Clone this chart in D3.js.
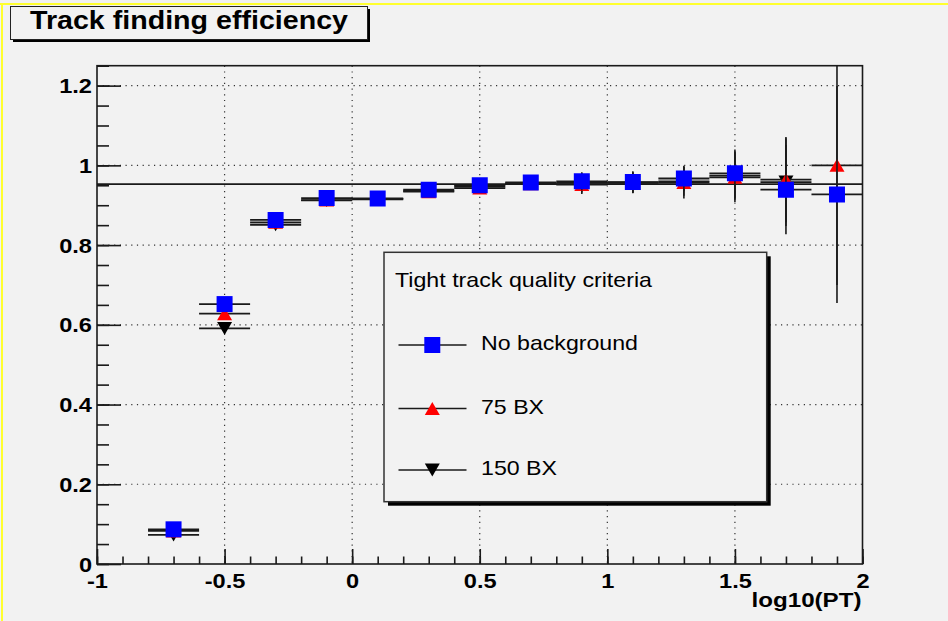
<!DOCTYPE html>
<html>
<head>
<meta charset="utf-8">
<script src="https://cdn.jsdelivr.net/npm/d3@7"></script>
<style>
  body { margin: 0; background: #f2f2f2; }
  svg { display: block; }
  text { font-family: "Liberation Sans", Arial, Helvetica, sans-serif; fill: #000; }
</style>
</head>
<body>
<svg id="chart" width="948" height="621"></svg>
<script>
// ---- data -------------------------------------------------------------
const binCenters   = [-0.7, -0.5, -0.3, -0.1, 0.1, 0.3, 0.5, 0.7, 0.9, 1.1, 1.3, 1.5, 1.7, 1.9];
const binHalfWidth = 0.1;

const noBackground    = [0.087, 0.652, 0.863, 0.918, 0.917, 0.939, 0.950, 0.957, 0.960, 0.958, 0.967, 0.980, 0.939, 0.927];
const noBackgroundErr = [0.004, 0.006, 0.006, 0.005, 0.005, 0.006, 0.008, 0.012, 0.023, 0.027, 0.032, 0.060, 0.112, 0.272];

const bx75    = [0.083, 0.628, 0.857, 0.913, 0.916, 0.934, 0.943, 0.954, 0.952, 0.956, 0.957, 0.970, 0.964, 1.000];
const bx75Err = [0.004, 0.006, 0.006, 0.005, 0.005, 0.006, 0.008, 0.012, 0.024, 0.026, 0.040, 0.062, 0.107, 0.300];

const bx150    = [0.073, 0.591, 0.851, 0.912, 0.915, 0.936, 0.947, 0.955, 0.956, 0.957, 0.960, 0.974, 0.958, null];
const bx150Err = [0.004, 0.006, 0.006, 0.005, 0.005, 0.006, 0.008, 0.012, 0.024, 0.026, 0.036, 0.060, 0.110, null];

const fitLevel = 0.953;

const xTickValues = [-1, -0.5, 0, 0.5, 1, 1.5, 2];
const xTickLabels = ["-1", "-0.5", "0", "0.5", "1", "1.5", "2"];
const yTickValues = [0, 0.2, 0.4, 0.6, 0.8, 1, 1.2];
const yTickLabels = ["0", "0.2", "0.4", "0.6", "0.8", "1", "1.2"];

const chartTitle  = "Track finding efficiency";
const xAxisTitle  = "log10(PT)";
const legendTitle = "Tight track quality criteria";
const seriesNames = ["No background", "75 BX", "150 BX"];

// ---- layout ------------------------------------------------------------
const svg = d3.select("#chart");
const W = 948, H = 621;
const plot = { left: 97, right: 862.5, top: 65.7, bottom: 564 };

const x = d3.scaleLinear().domain([-1, 2]).range([plot.left, plot.right]);
const y = d3.scaleLinear().domain([0, 1.25]).range([plot.bottom, plot.top]);

const ink = "#1a1a1a";
const bg = "#f2f2f2";

// stretch text horizontally to a given factor or to a fixed width
function stretchBy(sel, k) {
  sel.each(function () {
    const w = this.getComputedTextLength();
    this.setAttribute("textLength", w * k);
    this.setAttribute("lengthAdjust", "spacingAndGlyphs");
  });
}
function fitWidth(sel, width) {
  sel.attr("textLength", width).attr("lengthAdjust", "spacingAndGlyphs");
}

// canvas background and its yellow edges
svg.append("rect").attr("width", W).attr("height", H).attr("fill", bg);
svg.append("rect").attr("x", 0).attr("y", 3).attr("width", W).attr("height", 2).attr("fill", "#ffff2e");
svg.append("rect").attr("x", 1).attr("y", 3).attr("width", 2).attr("height", H - 3).attr("fill", "#ffff2e");

// ---- grid --------------------------------------------------------------
const grid = svg.append("g").attr("stroke", "#333").attr("stroke-width", 1.2)
  .attr("stroke-dasharray", "1.2,4.5");
grid.selectAll("line.v").data(xTickValues.filter(v => v > -1 && v < 2)).join("line")
  .attr("x1", d => x(d)).attr("x2", d => x(d))
  .attr("y1", plot.top).attr("y2", plot.bottom);
grid.selectAll("line.h").data(yTickValues.filter(v => v > 0)).join("line")
  .attr("x1", plot.left).attr("x2", plot.right)
  .attr("y1", d => y(d)).attr("y2", d => y(d));

// ---- fitted plateau ----------------------------------------------------
svg.append("line")
  .attr("x1", x(-1)).attr("x2", x(2))
  .attr("y1", y(fitLevel)).attr("y2", y(fitLevel))
  .attr("stroke", ink).attr("stroke-width", 1.6);

// ---- data series -------------------------------------------------------
svg.append("clipPath").attr("id", "plotClip").append("rect")
  .attr("x", plot.left).attr("y", plot.top)
  .attr("width", plot.right - plot.left).attr("height", plot.bottom - plot.top);

const markerPath = {
  square: (s) => `M${-s / 2},${-s / 2}h${s}v${s}h${-s}Z`,
  up:     (w, h) => `M0,${-h / 2}L${w / 2},${h / 2}L${-w / 2},${h / 2}Z`,
  down:   (w, h) => `M0,${h / 2}L${w / 2},${-h / 2}L${-w / 2},${-h / 2}Z`
};
function marker(g, type, color) {
  const d = type === "square" ? markerPath.square(16) : markerPath[type](15, 13);
  return g.append("path").attr("d", d).attr("fill", color);
}

const series = [
  { name: seriesNames[2], values: bx150, errs: bx150Err, color: "#000000", type: "down" },
  { name: seriesNames[1], values: bx75, errs: bx75Err, color: "#ff0000", type: "up" },
  { name: seriesNames[0], values: noBackground, errs: noBackgroundErr, color: "#0000ff", type: "square" }
];

const dataLayer = svg.append("g").attr("clip-path", "url(#plotClip)");
series.forEach(s => {
  const pts = binCenters.map((c, i) => ({ c, v: s.values[i], e: s.errs[i] }))
    .filter(p => p.v !== null);
  const g = dataLayer.append("g");
  // horizontal bin-width bars
  g.selectAll("line.hx").data(pts).join("line")
    .attr("x1", p => x(p.c - binHalfWidth)).attr("x2", p => x(p.c + binHalfWidth))
    .attr("y1", p => y(p.v)).attr("y2", p => y(p.v))
    .attr("stroke", ink).attr("stroke-width", 1.8);
  // vertical error bars
  g.selectAll("line.ey").data(pts).join("line")
    .attr("x1", p => x(p.c)).attr("x2", p => x(p.c))
    .attr("y1", p => y(p.v - p.e)).attr("y2", p => y(p.v + p.e))
    .attr("stroke", ink).attr("stroke-width", 1.6);
  pts.forEach(p => {
    marker(g, s.type, s.color).attr("transform", `translate(${x(p.c)},${y(p.v)})`);
  });
});

// ---- axes --------------------------------------------------------------
const yMinor = d3.range(0, 1.2501, 0.05).map(v => +v.toFixed(2));
const xMinor = d3.range(-1, 2.0001, 0.1).map(v => +v.toFixed(1));

const yAxis = svg.append("g").attr("transform", `translate(${plot.left},0)`)
  .call(d3.axisLeft(y).tickValues(yTickValues).tickSize(-24).tickPadding(5)
    .tickFormat((d, i) => yTickLabels[i]));
svg.append("g").attr("transform", `translate(${plot.left},0)`)
  .call(d3.axisLeft(y).tickValues(yMinor).tickSize(-12).tickFormat(""))
  .call(g => g.select(".domain").remove());

const xAxis = svg.append("g").attr("transform", `translate(0,${plot.bottom})`)
  .call(d3.axisBottom(x).tickValues(xTickValues).tickSize(-15).tickPadding(8)
    .tickFormat((d, i) => xTickLabels[i]));
svg.append("g").attr("transform", `translate(0,${plot.bottom})`)
  .call(d3.axisBottom(x).tickValues(xMinor).tickSize(-7.5).tickFormat(""))
  .call(g => g.select(".domain").remove());

svg.selectAll(".tick line").attr("stroke", ink).attr("stroke-width", 1.6);
yAxis.select(".domain").remove();
xAxis.select(".domain").remove();

yAxis.selectAll(".tick text")
  .attr("font-size", 20).attr("font-weight", "bold").attr("fill", "#000")
  .attr("dy", null).attr("y", 7)
  .style("font-family", '"Liberation Sans", Arial, sans-serif');
xAxis.selectAll(".tick text")
  .attr("font-size", 20).attr("font-weight", "bold").attr("fill", "#000")
  .attr("dy", null).attr("y", 23.5)
  .style("font-family", '"Liberation Sans", Arial, sans-serif');
stretchBy(yAxis.selectAll(".tick text"), 1.18);
stretchBy(xAxis.selectAll(".tick text"), 1.18);

// frame around the plot
svg.append("rect")
  .attr("x", plot.left).attr("y", plot.top)
  .attr("width", plot.right - plot.left).attr("height", plot.bottom - plot.top)
  .attr("fill", "none").attr("stroke", ink).attr("stroke-width", 1.6);

// axis title
const xt = svg.append("text")
  .attr("x", 861.5).attr("y", 606.5).attr("text-anchor", "end")
  .attr("font-size", 21).attr("font-weight", "bold").text(xAxisTitle);
fitWidth(xt, 110);

// ---- title box ---------------------------------------------------------
svg.append("rect").attr("x", 13).attr("y", 9).attr("width", 357).attr("height", 33).attr("fill", "#000");
svg.append("rect").attr("x", 10.5).attr("y", 6.5).attr("width", 357).attr("height", 33)
  .attr("fill", bg).attr("stroke", "#222").attr("stroke-width", 1);
const tt = svg.append("text").attr("x", 30).attr("y", 28.5)
  .attr("font-size", 25).attr("font-weight", "bold").text(chartTitle);
fitWidth(tt, 318);

// ---- legend ------------------------------------------------------------
const lg = { x: 384, y: 252.3, w: 382.7, h: 249.4 };
svg.append("rect").attr("x", lg.x + 4).attr("y", lg.y + 4).attr("width", lg.w).attr("height", lg.h).attr("fill", "#000");
svg.append("rect").attr("x", lg.x).attr("y", lg.y).attr("width", lg.w).attr("height", lg.h)
  .attr("fill", bg).attr("stroke", "#333").attr("stroke-width", 1.5);

const lt = svg.append("text").attr("x", 395).attr("y", 286.5).attr("font-size", 21).text(legendTitle);
fitWidth(lt, 257);

const legendRows = [
  { s: series[2], y: 345, width: 157 },
  { s: series[1], y: 408.5, width: 63 },
  { s: series[0], y: 470, width: 76 }
];
legendRows.forEach(r => {
  svg.append("line").attr("x1", 398.5).attr("x2", 466.5).attr("y1", r.y).attr("y2", r.y)
    .attr("stroke", ink).attr("stroke-width", 1.6);
  marker(svg, r.s.type, r.s.color).attr("transform", `translate(432.3,${r.y})`);
  const t = svg.append("text").attr("x", 481).attr("y", r.y + 5).attr("font-size", 21)
    .text(r.s.name);
  fitWidth(t, r.width);
});
</script>
</body>
</html>
